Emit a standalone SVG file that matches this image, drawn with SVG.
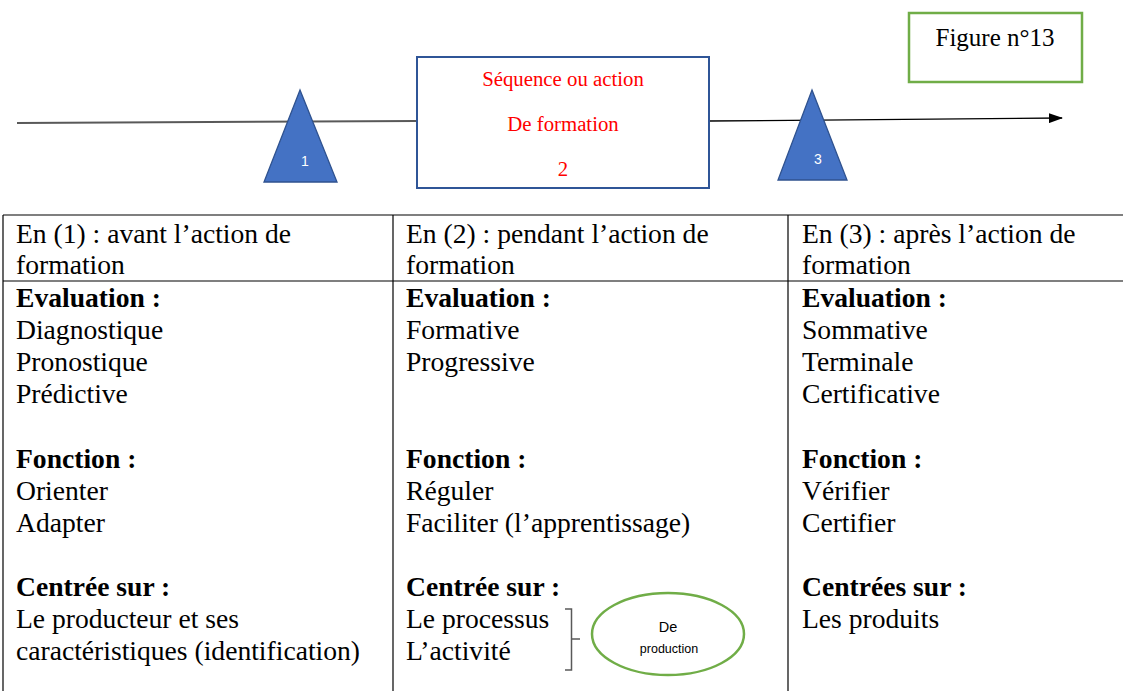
<svg xmlns="http://www.w3.org/2000/svg" width="1123" height="691" viewBox="0 0 1123 691">
<defs>
<style>
.t{font-family:"Liberation Serif","Times New Roman",serif;font-size:27.6px;fill:#000}
.b{font-weight:bold}
.red{font-family:"Liberation Serif","Times New Roman",serif;font-size:20.8px;fill:#FF0000;text-anchor:middle}
.tri{fill:#4472C4;stroke:#2F528F;stroke-width:1.3}
.num{font-family:"Liberation Sans",Arial,sans-serif;font-size:14px;fill:#fff;text-anchor:middle}
.grid{stroke:#000;stroke-width:1.2;fill:none}
.sans{font-family:"Liberation Sans",Arial,sans-serif;fill:#000;text-anchor:middle}
</style>
<marker id="arr" markerWidth="14" markerHeight="10" refX="13" refY="5" orient="auto" markerUnits="userSpaceOnUse">
<path d="M0,0 L14,5 L0,10 z" fill="#000"/>
</marker>
</defs>
<rect width="1123" height="691" fill="#fff"/>
<g id="connectors">
<line x1="17" y1="123" x2="417" y2="121" stroke="#595959" stroke-width="2"/>
<line x1="709" y1="121" x2="1062" y2="118" stroke="#000" stroke-width="1.3" marker-end="url(#arr)"/>
</g>
<g id="tri1">
<polygon class="tri" points="300,90 337,182 264,182"/>
<text class="num" x="305" y="166">1</text>
</g>
<g id="box2">
<rect x="417" y="57" width="292" height="131" fill="#fff" stroke="#2F5597" stroke-width="2"/>
<text class="red" x="563" y="86">Séquence ou action</text>
<text class="red" x="563" y="131">De formation</text>
<text class="red" x="563" y="176">2</text>
</g>
<g id="tri3">
<polygon class="tri" points="812,90 847,180 778,180"/>
<text class="num" x="818" y="164">3</text>
</g>
<g id="figure">
<rect x="909" y="13" width="173" height="69" fill="#fff" stroke="#70AD47" stroke-width="2.5"/>
<text x="995" y="46" font-family="Liberation Serif,Times New Roman,serif" font-size="25" text-anchor="middle">Figure n°13</text>
</g>
<g id="table">
<line class="grid" x1="3" y1="215" x2="1123" y2="215"/>
<line class="grid" x1="3" y1="281" x2="1123" y2="281"/>
<line class="grid" x1="3" y1="215" x2="3" y2="691"/>
<line class="grid" x1="393" y1="215" x2="393" y2="691"/>
<line class="grid" x1="788" y1="215" x2="788" y2="691"/>
</g>
<g id="col1">
<text class="t" x="16" y="243">En (1) : avant l’action de</text>
<text class="t" x="16" y="274">formation</text>
<text class="t b" x="16" y="307">Evaluation :</text>
<text class="t" x="16" y="339">Diagnostique</text>
<text class="t" x="16" y="371">Pronostique</text>
<text class="t" x="16" y="403">Prédictive</text>
<text class="t b" x="16" y="468">Fonction :</text>
<text class="t" x="16" y="500">Orienter</text>
<text class="t" x="16" y="532">Adapter</text>
<text class="t b" x="16" y="596">Centrée sur :</text>
<text class="t" x="16" y="628">Le producteur et ses</text>
<text class="t" x="16" y="660">caractéristiques (identification)</text>
</g>
<g id="col2">
<text class="t" x="406" y="243">En (2) : pendant l’action de</text>
<text class="t" x="406" y="274">formation</text>
<text class="t b" x="406" y="307">Evaluation :</text>
<text class="t" x="406" y="339">Formative</text>
<text class="t" x="406" y="371">Progressive</text>
<text class="t b" x="406" y="468">Fonction :</text>
<text class="t" x="406" y="500">Réguler</text>
<text class="t" x="406" y="532">Faciliter (l’apprentissage)</text>
<text class="t b" x="406" y="596">Centrée sur :</text>
<text class="t" x="406" y="628">Le processus</text>
<text class="t" x="406" y="660">L’activité</text>
</g>
<g id="bracket">
<path d="M565,609 H571.5 V670 H565 M571.5,639 H580" fill="none" stroke="#595959" stroke-width="1.5"/>
</g>
<g id="ellipse">
<ellipse cx="668" cy="634" rx="76" ry="41" fill="#fff" stroke="#70AD47" stroke-width="2.5"/>
<text class="sans" x="668" y="632" font-size="14.5">De</text>
<text class="sans" x="669" y="653" font-size="12.5">production</text>
</g>
<g id="col3">
<text class="t" x="802" y="243">En (3) : après l’action de</text>
<text class="t" x="802" y="274">formation</text>
<text class="t b" x="802" y="307">Evaluation :</text>
<text class="t" x="802" y="339">Sommative</text>
<text class="t" x="802" y="371">Terminale</text>
<text class="t" x="802" y="403">Certificative</text>
<text class="t b" x="802" y="468">Fonction :</text>
<text class="t" x="802" y="500">Vérifier</text>
<text class="t" x="802" y="532">Certifier</text>
<text class="t b" x="802" y="596">Centrées sur :</text>
<text class="t" x="802" y="628">Les produits</text>
</g>
</svg>
